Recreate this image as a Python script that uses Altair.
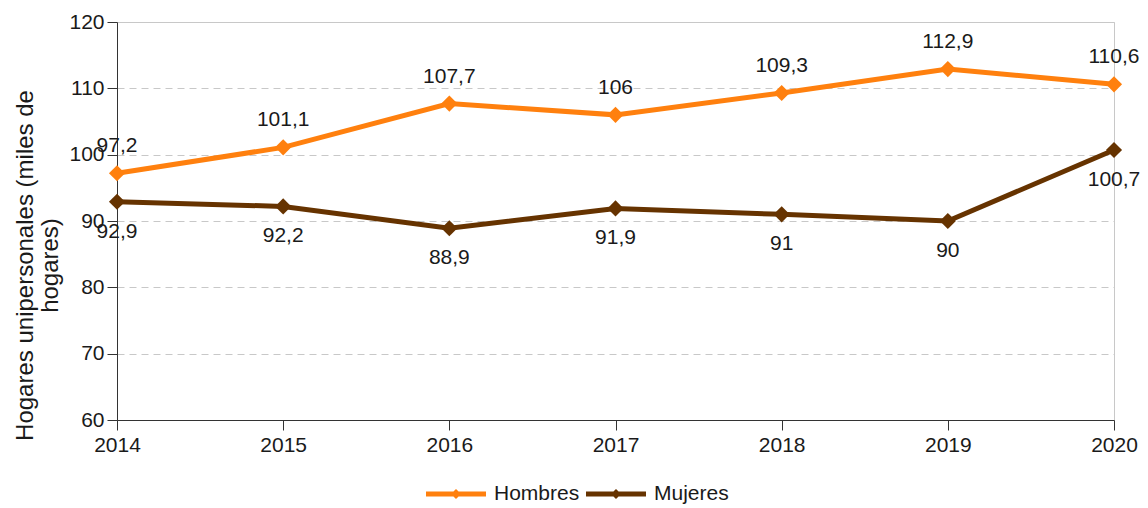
import altair as alt
import pandas as pd

years = ["2014", "2015", "2016", "2017", "2018", "2019", "2020"]
hombres = [97.2, 101.1, 107.7, 106, 109.3, 112.9, 110.6]
mujeres = [92.9, 92.2, 88.9, 91.9, 91, 90, 100.7]
series = ["Hombres", "Mujeres"]
colors = ["#ff800e", "#663300"]


def fmt(v):
    s = ("%g" % v)
    return s.replace(".", ",")


rows = []
for name, vals in zip(series, [hombres, mujeres]):
    for y, v in zip(years, vals):
        rows.append({"year": y, "value": v, "serie": name, "label": fmt(v)})
df = pd.DataFrame(rows)

FONT = "Liberation Sans"
FS = 21
W, H = 997, 398

x = alt.X("year:O", title=None,
          scale=alt.Scale(paddingInner=0, paddingOuter=0, padding=0),
          axis=alt.Axis(labelAngle=0, grid=False, tickSize=10, labelFontSize=FS,
                        labelFont=FONT, labelColor="#1a1a1a", domainColor="#333333",
                        tickColor="#333333", labelPadding=4))
y = alt.Y("value:Q",
          title=["Hogares unipersonales (miles de", "hogares)"],
          scale=alt.Scale(domain=[60, 120], nice=False, zero=False),
          axis=alt.Axis(values=[60, 70, 80, 90, 100, 110, 120], tickSize=10,
                        labelFontSize=FS, labelFont=FONT, labelColor="#1a1a1a",
                        titleFontSize=24, titleFont=FONT, titleFontWeight="normal",
                        titleColor="#1a1a1a", titleLineHeight=25, titlePadding=6,
                        titleY=H / 2 + 44,
                        domainColor="#333333", tickColor="#333333",
                        gridColor="#c8c8c8", gridDash=[7, 5], gridWidth=1,
                        labelPadding=3))
color_scale = alt.Scale(domain=series, range=colors)

legend_path = ("M-1,-0.08 L1,-0.08 L1,0.08 L-1,0.08 Z "
               "M0,-0.17 L0.17,0 L0,0.17 L-0.17,0 Z")
legend = alt.Legend(orient="none", direction="horizontal",
                    legendX=309, legendY=442,
                    symbolType=legend_path, symbolSize=3600,
                    symbolStrokeWidth=0, symbolOpacity=1,
                    labelFontSize=FS, labelFont=FONT,
                    labelColor="#1a1a1a", columnPadding=6,
                    labelOffset=8)
color = alt.Color("serie:N", scale=color_scale, title=None, legend=legend)

base = alt.Chart(df)

lines = base.mark_line(strokeWidth=5).encode(x=x, y=y, color=color)
points = base.mark_point(shape="diamond", filled=True, size=260, opacity=1).encode(
    x=x, y=y, color=color)

txt_h = base.transform_filter(alt.datum.serie == "Hombres").mark_text(
    dy=-27, fontSize=FS, font=FONT, color="#1a1a1a").encode(x=x, y=y, text="label:N")
txt_m = base.transform_filter(alt.datum.serie == "Mujeres").mark_text(
    dy=30, fontSize=FS, font=FONT, color="#1a1a1a").encode(x=x, y=y, text="label:N")

chart = alt.layer(lines, points, txt_h, txt_m).properties(
    width=W, height=H,
    autosize=alt.AutoSizeParams(type="none"),
    padding={"left": 109, "top": 14, "right": 26, "bottom": 84},
).configure_view(stroke="#c8c8c8").configure_legend(symbolFillColor="#ff800e")

chart.save("out.html", embed_options={"renderer": "svg", "actions": False})
